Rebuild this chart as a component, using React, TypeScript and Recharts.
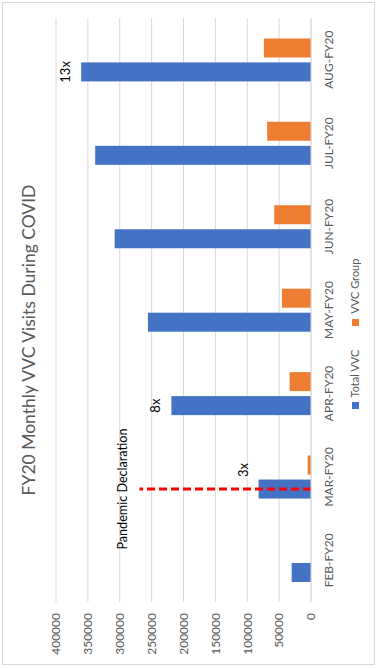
import React from "react";
import { BarChart, Bar, XAxis, YAxis, CartesianGrid, LabelList } from "recharts";

const months = ["FEB-FY20", "MAR-FY20", "APR-FY20", "MAY-FY20", "JUN-FY20", "JUL-FY20", "AUG-FY20"];
const totalVvc = [30300, 82200, 219000, 255800, 308000, 338500, 360500];
const vvcGroup = [0, 5200, 33500, 45600, 57700, 68700, 73900];
const growth = ["", "3x", "8x", "", "", "", "13x"];
const valueTicks = [0, 50000, 100000, 150000, 200000, 250000, 300000, 350000, 400000];

// pandemic marker on the March bar
const declarationMonth = "MAR-FY20";
const declarationLineTop = 269000;
const declarationLabelAt = 296000;

const series = [
  { key: "total", name: "Total VVC", color: "#4472C4" },
  { key: "group", name: "VVC Group", color: "#ED7D31" },
];

const data = months.map((month, i) => ({
  month,
  total: totalVvc[i],
  group: vvcGroup[i],
  growth: growth[i],
}));

const W = 668;
const H = 377;
const FONT = "Lato, 'Open Sans', sans-serif";
const GREY = "#595959";

function TotalBar(props: any) {
  const { x, y, width, height, fill, payload } = props;
  const bar = <rect x={x} y={y} width={width} height={height} fill={fill} />;
  if (payload.month !== declarationMonth) return bar;
  const cx = x + width / 2;
  const base = y + height;
  const perUnit = height / payload.total;
  return (
    <g>
      {bar}
      <line
        x1={cx}
        y1={base}
        x2={cx}
        y2={base - perUnit * declarationLineTop}
        stroke="#FF0000"
        strokeWidth={3}
        strokeDasharray="8 4"
      />
      <text
        x={cx}
        y={base - perUnit * declarationLabelAt}
        textAnchor="middle"
        dominantBaseline="central"
        fontSize={12.6}
        fontFamily={FONT}
        fill="#000"
      >
        Pandemic Declaration
      </text>
    </g>
  );
}

function renderGrowth(props: any) {
  const { x, y, width, value, index } = props;
  if (!value) return null;
  // keep the label clear of the dashed marker
  const shift = months[index] === declarationMonth ? width : 0;
  return (
    <text
      x={x + width / 2 + shift}
      y={y - 16}
      textAnchor="middle"
      dominantBaseline="central"
      fontSize={13}
      fontFamily={FONT}
      fill="#000"
    >
      {value}
    </text>
  );
}

// plain legend row; the chart is rotated so Recharts' measured legend would be wrong
function LegendRow() {
  return (
    <div
      style={{
        position: "absolute",
        left: 0,
        width: W,
        top: 347,
        display: "flex",
        justifyContent: "center",
        alignItems: "center",
        fontSize: 11,
        color: GREY,
        lineHeight: "16px",
      }}
    >
      {series.map((s) => (
        <span key={s.key} style={{ display: "inline-flex", alignItems: "center", margin: "0 12px" }}>
          <span style={{ width: 7, height: 7, background: s.color, marginRight: 5 }} />
          {s.name}
        </span>
      ))}
    </div>
  );
}

export default function App() {
  return (
    <div style={{ position: "absolute", left: 0, top: 0, width: 377, height: 668, overflow: "hidden", background: "#fff" }}>
      <div
        style={{
          position: "absolute",
          left: 0,
          top: 0,
          width: W,
          height: H,
          transformOrigin: "0 0",
          transform: `translate(0px, ${W}px) rotate(-90deg)`,
          fontFamily: FONT,
        }}
      >
        <BarChart
          width={W}
          height={H}
          data={data}
          margin={{ top: 56, right: 18, bottom: 32, left: 0 }}
          barCategoryGap="24%"
          barGap={5}
        >
          <CartesianGrid vertical={false} stroke="#d9d9d9" />
          <XAxis
            dataKey="month"
            interval={0}
            tickLine={false}
            axisLine={{ stroke: "#d9d9d9" }}
            tick={{ fontSize: 12, fill: GREY, fontFamily: FONT }}
            tickMargin={7}
            height={34}
          />
          <YAxis
            width={66}
            domain={[0, 400000]}
            ticks={valueTicks}
            axisLine={false}
            tickLine={false}
            tickMargin={5}
            tick={{ fontSize: 12, fill: GREY, fontFamily: FONT }}
          />
          <Bar dataKey="total" name={series[0].name} fill={series[0].color} shape={TotalBar} isAnimationActive={false}>
            <LabelList dataKey="growth" content={renderGrowth} />
          </Bar>
          <Bar dataKey="group" name={series[1].name} fill={series[1].color} isAnimationActive={false} />
        </BarChart>
        <div
          style={{
            position: "absolute",
            left: 0,
            width: W - 12,
            top: 17,
            textAlign: "center",
            fontSize: 17.5,
            color: GREY,
            lineHeight: "24px",
          }}
        >
          FY20 Monthly VVC Visits During COVID
        </div>
        <LegendRow />
      </div>
      <div
        style={{
          position: "absolute",
          left: 2,
          top: 2,
          width: 371,
          height: 661,
          border: "1px solid #d9d9d9",
          pointerEvents: "none",
        }}
      />
    </div>
  );
}
